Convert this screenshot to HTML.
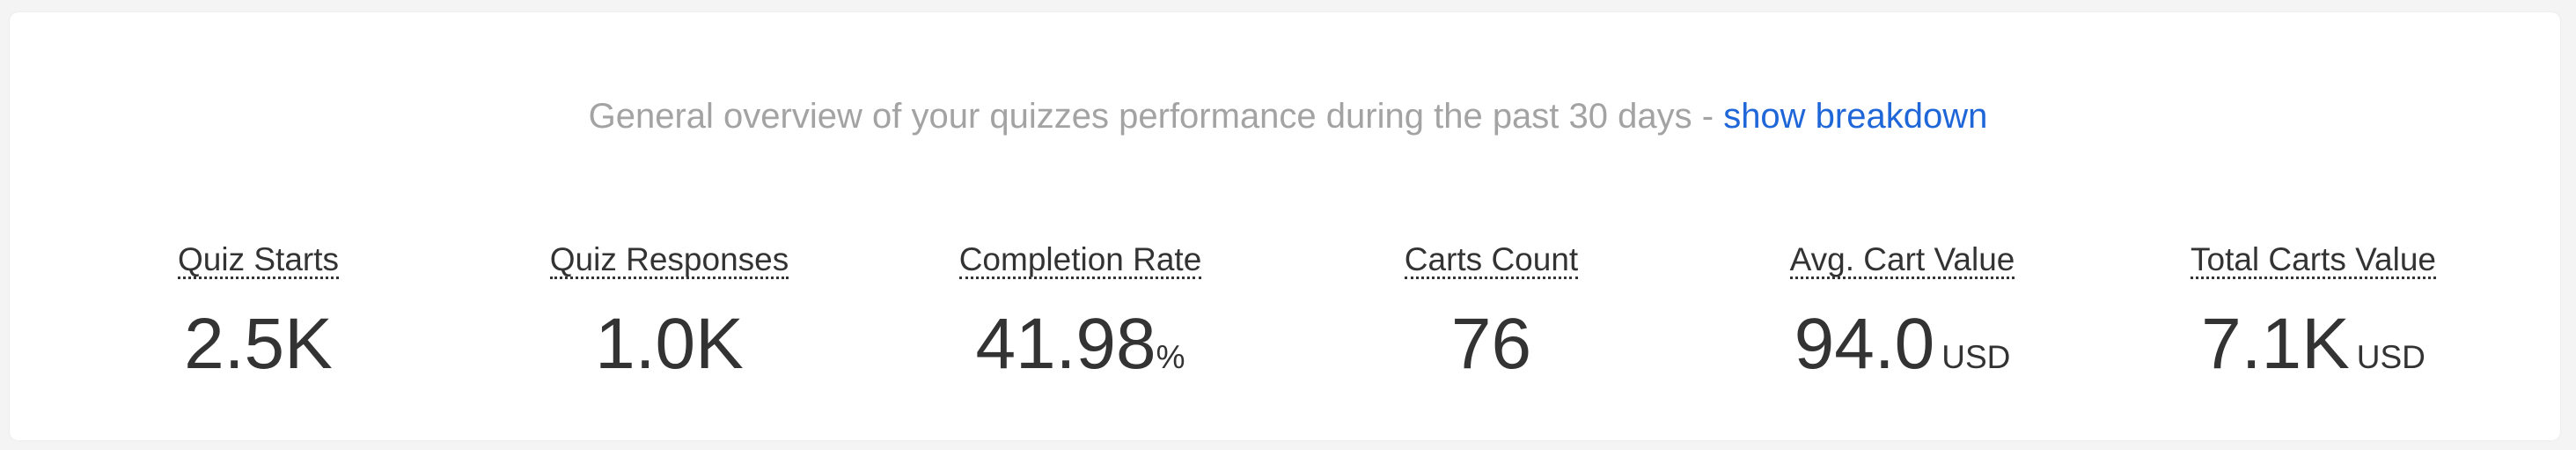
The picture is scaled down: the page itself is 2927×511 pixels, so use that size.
<!DOCTYPE html>
<html><head><meta charset="utf-8">
<style>
html,body{margin:0;padding:0;width:2927px;height:511px;background:#f4f4f4;overflow:hidden;font-family:"Liberation Sans",Arial,sans-serif;}
.card{position:absolute;left:11px;top:14px;width:2898px;height:486px;background:#fff;border-radius:10px;box-shadow:0 0 3px rgba(0,0,0,0.06);}
.sub{position:absolute;left:0;width:100%;top:112px;text-align:center;font-size:40px;line-height:1;color:#a3a3a3;}
.sub a{color:#1f66d9;text-decoration:none;}
.stat{position:absolute;top:0;width:467px;text-align:center;color:#333;}
.lab{position:absolute;left:0;width:100%;top:276px;line-height:1;font-size:37px;}
.lab span{border-bottom:3px dotted #333;display:inline-block;height:38px;line-height:1;}
.val{position:absolute;left:0;width:100%;top:350px;line-height:1;font-size:82px;}
.unit{font-size:37px;margin-left:8px;}
.pct{font-size:37px;}
</style></head><body>
<div class="card"></div>
<div class="sub">General overview of your quizzes performance during the past 30 days - <a href="#">show breakdown</a></div>
<div id="stats"></div>
<script>
const labels=["Quiz Starts","Quiz Responses","Completion Rate","Carts Count","Avg. Cart Value","Total Carts Value"];
const values=["2.5K","1.0K","41.98","76","94.0","7.1K"];
const units=["","","%","","USD","USD"];
const names=["quiz-starts","quiz-responses","completion-rate","carts-count","avg-cart-value","total-carts-value"];
const wrap=document.getElementById('stats');
labels.forEach((l,i)=>{
  const d=document.createElement('div');
  d.className='stat';
  d.style.left=(60+i*467)+'px';
  
  
  const lab=document.createElement('div');lab.className='lab';
  const s=document.createElement('span');s.textContent=l;
  
  
  lab.appendChild(s);
  const v=document.createElement('div');v.className='val';
  
  
  v.appendChild(document.createTextNode(values[i]));
  if(units[i]){const u=document.createElement('span');u.className=units[i]==='%'?'pct':'unit';u.textContent=units[i];v.appendChild(u);}
  d.appendChild(lab);d.appendChild(v);wrap.appendChild(d);
});
</script>
</body></html>
